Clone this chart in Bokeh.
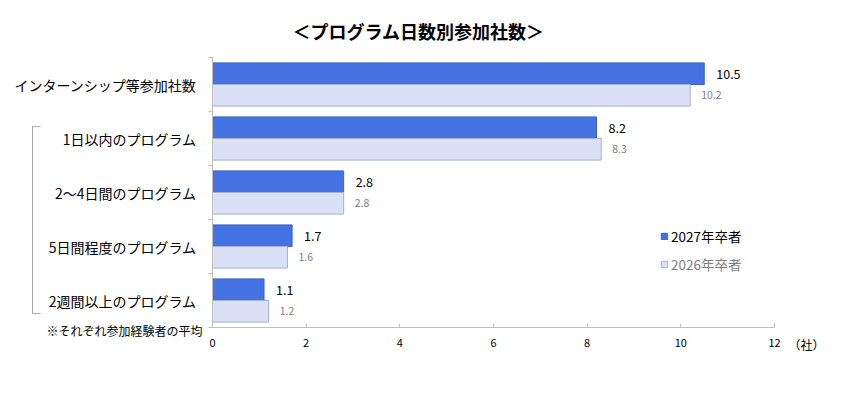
from bokeh.plotting import figure
from bokeh.models import (Range1d, FixedTicker, Label, Legend, LegendItem,
                          ColumnDataSource, LinearAxis)
from bokeh.core.properties import value
from bokeh.embed import file_html
from bokeh.resources import INLINE

categories = ["インターンシップ等参加社数", "1日以内のプログラム", "2～4日間のプログラム",
              "5日間程度のプログラム", "2週間以上のプログラム"]
values_2027 = [10.5, 8.2, 2.8, 1.7, 1.1]
values_2026 = [10.2, 8.3, 2.8, 1.6, 1.2]
series_names = ["2027年卒者", "2026年卒者"]
x_ticks = [0, 2, 4, 6, 8, 10, 12]
title_text = "＜プログラム日数別参加社数＞"
note_text = "※それぞれ参加経験者の平均"
unit_text = "（社）"

FONT = "Noto Sans CJK JP"
BLUE = "#4472E2"
BLUE_LINE = "#3A62C8"
LIGHT = "#DAE1F7"
LIGHT_LINE = "#A7B1CC"
AXIS_GREY = "#BFBFBF"

# canvas and plotting-area layout (pixels)
W, H = 834, 377
PLOT_L, PLOT_R, PLOT_T, PLOT_B = 212, 774, 57, 327
X_MAX = 12
n = len(categories)

px_per_x = (PLOT_R - PLOT_L) / X_MAX
px_per_y = (PLOT_B - PLOT_T) / n
x_start = -PLOT_L / px_per_x
x_end = x_start + W / px_per_x
y_start = -(H - PLOT_B) / px_per_y
y_end = y_start + H / px_per_y

centers = [n - i - 0.5 for i in range(n)]

src = ColumnDataSource(dict(
    y27=[c + 0.2 for c in centers],
    y26=[c - 0.2 for c in centers],
    v27=values_2027,
    v26=values_2026,
    t27=[f"{v:.1f}" for v in values_2027],
    t26=[f"{v:.1f}" for v in values_2026],
))

p = figure(width=W, height=H, output_backend="svg", toolbar_location=None,
           x_range=Range1d(x_start, x_end), y_range=Range1d(y_start, y_end),
           min_border=0, x_axis_location=None, y_axis_location=None)
p.outline_line_color = None
p.grid.grid_line_color = None
p.background_fill_color = "white"
p.border_fill_color = "white"

r27 = p.hbar(y="y27", left=0, right="v27", height=0.4, source=src,
             fill_color=BLUE, line_color=BLUE_LINE, line_width=1)
r26 = p.hbar(y="y26", left=0, right="v26", height=0.4, source=src,
             fill_color=LIGHT, line_color=LIGHT_LINE, line_width=1)

p.text(x="v27", y="y27", text="t27", source=src, x_offset=12,
       text_font=value(FONT), text_font_size="12.5px", text_color="black",
       text_baseline="middle", text_align="left")
p.text(x="v26", y="y26", text="t26", source=src, x_offset=11,
       text_font=value(FONT), text_font_size="10.5px", text_color="#7F7F7F",
       text_baseline="middle", text_align="left")

# x axis at y = 0
xa = LinearAxis(ticker=FixedTicker(ticks=x_ticks), fixed_location=0, bounds=(0, X_MAX))
xa.axis_line_color = AXIS_GREY
xa.major_tick_line_color = AXIS_GREY
xa.major_tick_in = 4
xa.major_tick_out = 0
xa.minor_tick_line_color = None
xa.major_label_text_font = FONT
xa.major_label_text_font_size = "11px"
xa.major_label_text_color = "black"
xa.major_label_standoff = 11
p.add_layout(xa, "below")

# y axis at x = 0: labels at band centers, boundary ticks as minor ticks
ya = LinearAxis(ticker=FixedTicker(ticks=centers, minor_ticks=list(range(n + 1))),
                fixed_location=0, bounds=(0, n))
ya.major_label_overrides = {c: categories[i] for i, c in enumerate(centers)}
ya.axis_line_color = AXIS_GREY
ya.major_tick_line_color = None
ya.major_tick_out = 0
ya.major_tick_in = 0
ya.minor_tick_line_color = AXIS_GREY
ya.minor_tick_out = 4
ya.minor_tick_in = 0
ya.major_label_text_font = FONT
ya.major_label_text_font_size = "14px"
ya.major_label_text_color = "black"
ya.major_label_standoff = 12
p.add_layout(ya, "left")

# bracket grouping the program-length categories
bx = -180 / px_per_x
cap = 8 / px_per_x
p.line(x=[bx + cap, bx, bx, bx + cap], y=[n - 1.28, n - 1.28, 0.26, 0.26],
       line_color="#A6A6A6", line_width=1)

# title
p.add_layout(Label(x=418, y=H - 30, x_units="screen", y_units="screen",
                   text=title_text, text_font=FONT, text_font_size="18px",
                   text_font_style="bold",
                   text_align="center", text_baseline="middle", text_color="black"))
# note
p.add_layout(Label(x=0, y=0, x_offset=-10, y_offset=-3,
                   text=note_text, text_font=FONT, text_font_size="12px",
                   text_align="right", text_baseline="middle", text_color="black"))
# unit
p.add_layout(Label(x=X_MAX, y=0, x_offset=14, y_offset=-17,
                   text=unit_text, text_font=FONT, text_font_size="12px",
                   text_align="left", text_baseline="middle", text_color="black"))

# legends
lg1 = Legend(items=[LegendItem(label=series_names[0], renderers=[r27])],
             location=(660, 131), glyph_width=8, glyph_height=8,
             label_text_font=FONT, label_text_font_size="13.5px", label_text_color="black",
             background_fill_alpha=0, border_line_color=None, padding=0, margin=0,
             label_standoff=3)
lg2 = Legend(items=[LegendItem(label=series_names[1], renderers=[r26])],
             location=(660, 103), glyph_width=8, glyph_height=8,
             label_text_font=FONT, label_text_font_size="13.5px", label_text_color="#7F7F7F",
             background_fill_alpha=0, border_line_color=None, padding=0, margin=0,
             label_standoff=3)
p.add_layout(lg1)
p.add_layout(lg2)

open("out.html", "w").write(file_html(p, INLINE))
